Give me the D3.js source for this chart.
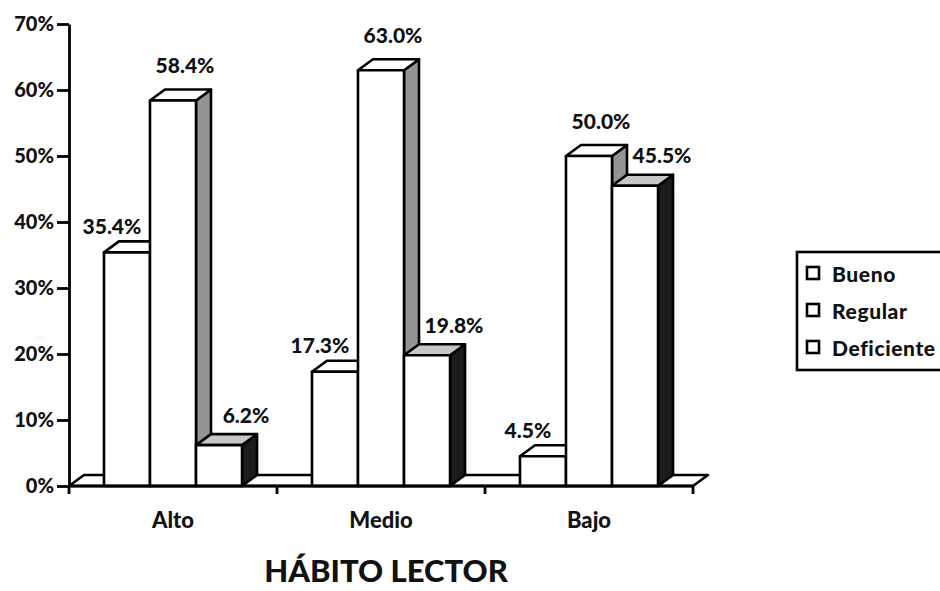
<!DOCTYPE html>
<html lang="es">
<head>
<meta charset="UTF-8" />
<script src="https://d3js.org/d3.v7.min.js"></script>
<style type="text/css">
  body { margin: 0; background: #fff; }
  svg text { font-family: Lato, "Open Sans", sans-serif; font-weight: 900; fill: #111; }
</style>
<title>Hábito lector</title>
</head>
<body>
<script type="text/javascript">
// data
var categories = ["Alto", "Medio", "Bajo"];
var series = ["Bueno", "Regular", "Deficiente"];
var bueno = [35.4, 17.3, 4.5];
var regular = [58.4, 63.0, 50.0];
var deficiente = [6.2, 19.8, 45.5];
var yTicks = [0, 10, 20, 30, 40, 50, 60, 70];

var values = [bueno, regular, deficiente];

// look of each series: top, side fill and label shift
var look = {
  Bueno:      {top: "#fff",    side: "#fff",    lx: -15, ly: -27},
  Regular:    {top: "#fff",    side: "#939393", lx: 12,  ly: -36},
  Deficiente: {top: "#c6c6c6", side: "#1c1c1c", lx: 27,  ly: -31}
};

var W = 940, H = 591;
var depth = {dx: 15, dy: -11};
var sw = 2.6;

var svg = d3.select("body").append("svg")
    .attr("width", W)
    .attr("height", H);

// scales
var x0 = d3.scaleBand()
    .domain(categories)
    .range([69, 693]);

var x1 = d3.scaleBand()
    .domain(series)
    .range([0, x0.bandwidth()])
    .paddingOuter(0.76);

var y = d3.scaleLinear()
    .domain([0, 70])
    .range([486, 24]);

var base = y(0);

// floor
var fx0 = x0.range()[0], fx1 = x0.range()[1];
svg.append("polygon")
   .attr("points", [[fx0, base], [fx1, base], [fx1 + depth.dx, base + depth.dy], [fx0 + depth.dx, base + depth.dy]].join(" "))
   .attr("fill", "#fff")
   .attr("stroke", "#000")
   .attr("stroke-width", sw)
   .attr("stroke-linejoin", "round");

// bars, drawn left to right so the next front hides the previous side
var bars = svg.append("g");
categories.forEach(function(c, i) {
  series.forEach(function(s, j) {
    var v = values[j][i];
    var x = x0(c) + x1(s), w = x1.bandwidth(), yt = y(v);
    var g = bars.append("g").attr("class", "bar");
    g.append("polygon")
     .attr("points", [[x + w, base], [x + w + depth.dx, base + depth.dy], [x + w + depth.dx, yt + depth.dy], [x + w, yt]].join(" "))
     .attr("fill", look[s].side);
    g.append("polygon")
     .attr("points", [[x, yt], [x + depth.dx, yt + depth.dy], [x + w + depth.dx, yt + depth.dy], [x + w, yt]].join(" "))
     .attr("fill", look[s].top);
    g.append("rect")
     .attr("x", x)
     .attr("y", yt)
     .attr("width", w)
     .attr("height", base - yt)
     .attr("fill", "#fff");
    g.selectAll("polygon, rect")
     .attr("stroke", "#000")
     .attr("stroke-width", sw)
     .attr("stroke-linejoin", "round");
  });
});

// data labels
categories.forEach(function(c, i) {
  series.forEach(function(s, j) {
    var v = values[j][i];
    svg.append("text")
       .attr("x", x0(c) + x1(s) + x1.bandwidth() / 2 + look[s].lx)
       .attr("y", y(v) + look[s].ly)
       .attr("text-anchor", "middle")
       .attr("dominant-baseline", "central")
       .style("font-size", "21px")
       .text(v.toFixed(1) + "%");
  });
});

// y axis
var yAxis = svg.append("g")
   .attr("class", "y_axis")
   .attr("transform", "translate(69,0)")
   .call(d3.axisLeft(y).tickValues(yTicks).tickFormat(function(d) { return d + "%"; }).tickSize(12).tickSizeOuter(0).tickPadding(3));
yAxis.selectAll("line, path").attr("stroke", "#000").attr("stroke-width", 2.8);
yAxis.selectAll("text").style("font-size", "20px").attr("fill", "#111");
svg.append("line")
   .attr("x1", 69).attr("x2", 69)
   .attr("y1", base).attr("y2", base + 8)
   .attr("stroke", "#000").attr("stroke-width", 2.8);

// x axis: front edge of floor, ticks between groups
svg.append("line")
   .attr("x1", fx0).attr("x2", fx1)
   .attr("y1", base).attr("y2", base)
   .attr("stroke", "#000").attr("stroke-width", 3);
svg.selectAll(".xtick")
   .data(categories.slice(1).map(function(c) { return x0(c); }).concat([fx1]))
   .enter().append("line")
   .attr("class", "xtick")
   .attr("x1", function(d) { return d; }).attr("x2", function(d) { return d; })
   .attr("y1", base).attr("y2", base + 8)
   .attr("stroke", "#000").attr("stroke-width", 2.8);

var xAxis = svg.append("g")
   .attr("class", "x_axis")
   .attr("transform", "translate(0," + base + ")")
   .call(d3.axisBottom(x0).tickSize(0).tickPadding(26));
xAxis.select(".domain").remove();
xAxis.selectAll("text").style("font-size", "22px").attr("fill", "#111");

// axis title
svg.append("text")
   .attr("x", 386)
   .attr("y", 582)
   .attr("text-anchor", "middle")
   .style("font-size", "31px")
   .text("HÁBITO LECTOR");

// legend (runs past the right edge like the original)
var legend = svg.append("g").attr("transform", "translate(797,252)");
legend.append("rect")
   .attr("width", 170).attr("height", 118)
   .attr("fill", "#fff").attr("stroke", "#000").attr("stroke-width", sw);
var item = legend.selectAll(".item")
   .data(series)
   .enter().append("g")
   .attr("class", "item")
   .attr("transform", function(d, i) { return "translate(10," + (15 + i * 37) + ")"; });
item.append("rect")
   .attr("width", 12).attr("height", 12)
   .attr("fill", "#fff").attr("stroke", "#000").attr("stroke-width", sw);
item.append("text")
   .attr("x", 25).attr("y", 6)
   .attr("dominant-baseline", "central")
   .style("font-size", "21px")
   .style("letter-spacing", "0.6px")
   .text(function(d) { return d; });
</script>
</body>
</html>
